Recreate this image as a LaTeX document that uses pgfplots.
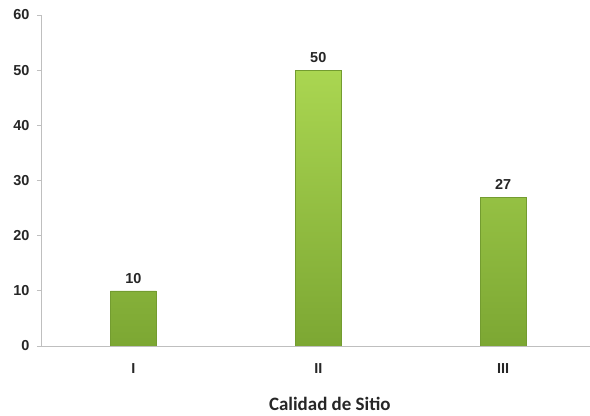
\documentclass[border=0pt]{standalone}
\usepackage{pgfplots}
\pgfplotsset{compat=1.18}
\usepackage{fontspec}
\setmainfont{Liberation Sans}
\newfontfamily\calibri{Carlito}
\definecolor{axgray}{HTML}{BFBFBF}
\definecolor{bartop}{HTML}{AAD651}
\definecolor{barbot}{HTML}{7CA733}
\definecolor{baredge}{HTML}{739C30}
\begin{document}
\begin{tikzpicture}
\useasboundingbox (-41bp,-70bp) rectangle (549bp,346bp);
\begin{axis}[
  name=ax,
  at={(0,0)}, anchor=south west,
  scale only axis,
  width=549bp, height=331bp,
  xmin=-0.5, xmax=2.47,
  ymin=0, ymax=60,
  ytick={0,10,...,60},
  xtick={0,1,2},
  xticklabels={I,II,III},
  axis x line=bottom, axis y line=left,
  axis line style={axgray, line width=0.8pt, -},
  x axis line style={-},
  y axis line style={-},
  tick style={axgray, line width=0.8pt},
  xtick style={draw=none},
  ytick align=outside, major tick length=4bp,
  tick label style={font=\fontsize{14.5}{17}\selectfont\bfseries, text=black!85},
  /pgf/number format/assume math mode=true,
  yticklabel style={xshift=-4bp},
  xticklabel style={yshift=-10bp},
  xlabel={\calibri\fontsize{19}{22}\selectfont\bfseries Calidad de Sitio},
  xlabel style={at={(axis description cs:0.526,0)}, anchor=center, yshift=-58bp, text=black!85},
  ybar, bar width=46bp,
  nodes near coords,
  nodes near coords style={font=\fontsize{14.5}{17}\selectfont\bfseries, text=black!85, yshift=4bp},
]
\addplot[draw=baredge, line width=0.5pt, top color=bartop, bottom color=barbot] coordinates {(0,10) (1,50) (2,27)};
\end{axis}
\end{tikzpicture}
\end{document}
